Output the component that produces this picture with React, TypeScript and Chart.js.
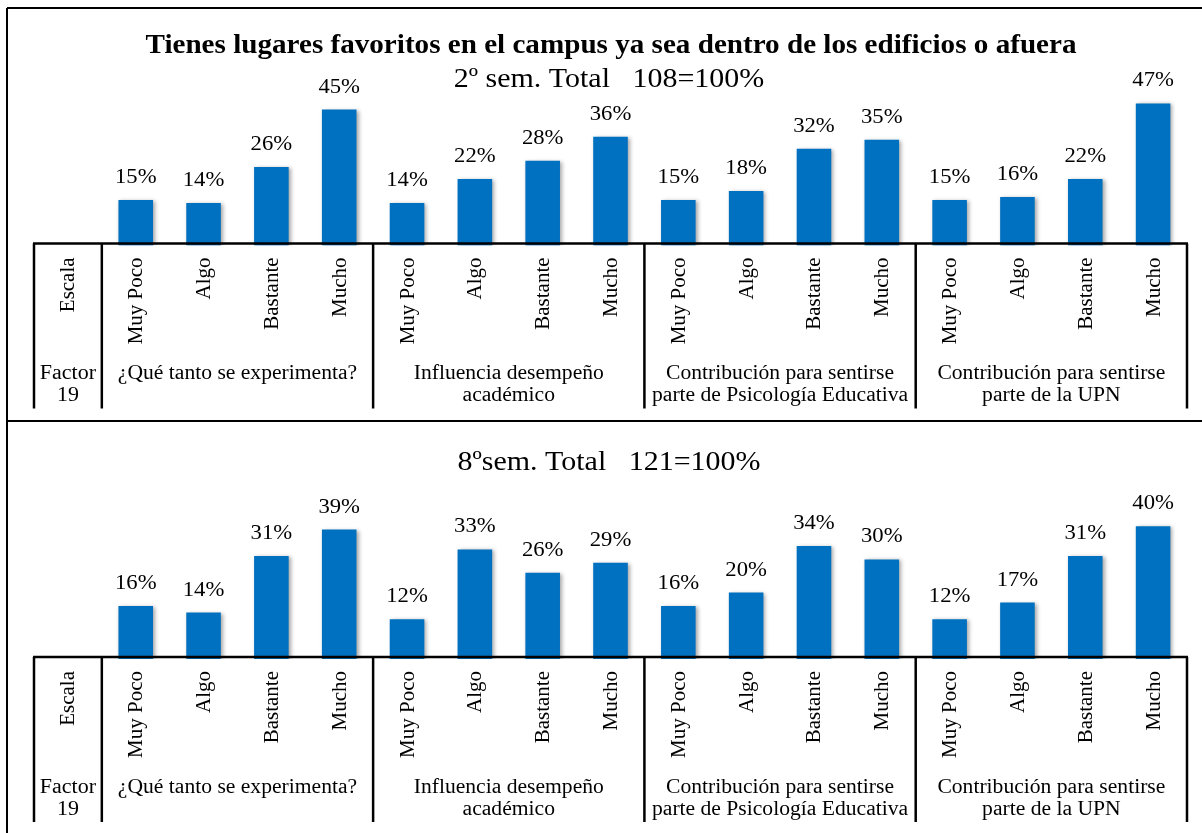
import React, { useEffect, useRef } from 'react';
import { Chart, registerables } from 'chart.js';

Chart.register(...registerables);

// ---------- data ----------
const TITLE = 'Tienes lugares favoritos en el campus ya sea dentro de los edificios o afuera';
const headerLabel = 'Escala';
const factorLabel = ['Factor', '19'];
const scaleLabels = ['Muy Poco', 'Algo', 'Bastante', 'Mucho'];
const factorGroups = [
  ['¿Qué tanto se experimenta?'],
  ['Influencia desempeño', 'académico'],
  ['Contribución para sentirse', 'parte de Psicología Educativa'],
  ['Contribución para sentirse', 'parte de la UPN'],
];
const sem2Subtitle = '2º sem. Total   108=100%';
const sem8Subtitle = '8ºsem. Total   121=100%';
const sem2Values = [15, 14, 26, 45, 14, 22, 28, 36, 15, 18, 32, 35, 15, 16, 22, 47];
const sem8Values = [16, 14, 31, 39, 12, 33, 26, 29, 16, 20, 34, 30, 12, 17, 31, 40];

const FONT = '"Liberation Serif", "Times New Roman", serif';
const BAR_COLOR = '#0070C0';
const W = 1202;

function drawStretched(ctx: CanvasRenderingContext2D, text: string, x: number, y: number, font: string, sx: number, align: CanvasTextAlign) {
  ctx.save();
  ctx.font = font;
  ctx.fillStyle = '#000';
  ctx.textBaseline = 'alphabetic';
  ctx.textAlign = align;
  ctx.translate(x, y);
  ctx.scale(sx, 1);
  ctx.fillText(text, 0, 0);
  ctx.restore();
}

type PanelProps = {
  values: number[];
  subtitle: string;
  subtitleY: number;
  showTitle: boolean;
  height: number;
  origin: number;
  pxPerPct: number;
  top: number;
  frameTop: number | null;
  frameBottom: number | null;
};

function Panel(p: PanelProps) {
  const ref = useRef<HTMLCanvasElement | null>(null);
  useEffect(() => {
    if (!ref.current) return;
    const yMax = 50;
    const labels = [headerLabel];
    factorGroups.forEach(() => scaleLabels.forEach((s) => labels.push(s)));
    const data: (number | null)[] = [null, ...p.values];

    const decor = {
      id: 'decor',
      beforeDatasetsDraw(chart: any) {
        const ctx = chart.ctx as CanvasRenderingContext2D;
        ctx.save();
        ctx.shadowColor = 'rgba(0,0,0,0.35)';
        ctx.shadowBlur = 4;
        ctx.shadowOffsetX = 2;
        ctx.shadowOffsetY = 1;
      },
      afterDatasetsDraw(chart: any) {
        const ctx = chart.ctx as CanvasRenderingContext2D;
        ctx.restore();
        const xs = chart.scales.x;
        const area = chart.chartArea;
        const meta = chart.getDatasetMeta(0);
        // data labels
        meta.data.forEach((el: any, i: number) => {
          const v = data[i];
          if (v == null) return;
          drawStretched(ctx, v + '%', el.x, el.y - 17, `21px ${FONT}`, 1.08, 'center');
        });
        // titles
        if (p.showTitle) {
          drawStretched(ctx, TITLE, 611, 53, `bold 28px ${FONT}`, 1.04, 'center');
        }
        drawStretched(ctx, p.subtitle, 609, p.subtitleY, `28px ${FONT}`, 1.07, 'center');

        // table
        const line = p.origin - 2;
        const tBottom = line + 165;
        const n = labels.length;
        const cx = (i: number) => xs.getPixelForValue(i);
        const boundary = (i: number) => (i <= 0 ? area.left : i >= n ? area.right : (cx(i - 1) + cx(i)) / 2);
        ctx.save();
        ctx.strokeStyle = '#000';
        ctx.lineWidth = 2.5;
        ctx.beginPath();
        ctx.moveTo(area.left - 1, line);
        ctx.lineTo(area.right + 1, line);
        const verts = [0, 1];
        factorGroups.forEach((_, g) => verts.push(1 + (g + 1) * scaleLabels.length));
        verts.forEach((i) => {
          const x = boundary(i);
          ctx.moveTo(x, line);
          ctx.lineTo(x, tBottom);
        });
        ctx.stroke();
        ctx.restore();

        // rotated scale labels
        labels.forEach((lab, i) => {
          ctx.save();
          ctx.font = `21px ${FONT}`;
          ctx.fillStyle = '#000';
          ctx.textAlign = 'right';
          ctx.textBaseline = 'middle';
          ctx.translate(cx(i) + 1, line + 14);
          ctx.rotate(-Math.PI / 2);
          ctx.fillText(lab, 0, 0);
          ctx.restore();
        });

        // factor row
        const fx = cx(0);
        drawStretched(ctx, factorLabel[0], fx, line + 136, `20px ${FONT}`, 1.1, 'center');
        drawStretched(ctx, factorLabel[1], fx, line + 158, `20px ${FONT}`, 1.1, 'center');
        factorGroups.forEach((lines, g) => {
          const a = boundary(1 + g * scaleLabels.length);
          const b = boundary(1 + (g + 1) * scaleLabels.length);
          lines.forEach((t, k) => {
            drawStretched(ctx, t, (a + b) / 2, line + 136 + k * 22, `20px ${FONT}`, 1.08, 'center');
          });
        });

        // frame
        ctx.save();
        ctx.strokeStyle = '#000';
        ctx.lineWidth = 2;
        ctx.beginPath();
        ctx.moveTo(7, p.frameTop != null ? p.frameTop : 0);
        ctx.lineTo(7, p.height);
        if (p.frameTop != null) {
          ctx.moveTo(7, p.frameTop);
          ctx.lineTo(W, p.frameTop);
        }
        ctx.stroke();
        if (p.frameBottom != null) {
          ctx.lineWidth = 3;
          ctx.beginPath();
          ctx.moveTo(6, p.frameBottom);
          ctx.lineTo(W, p.frameBottom);
          ctx.stroke();
        }
        ctx.restore();
      },
    };

    const chart = new Chart(ref.current, {
      type: 'bar',
      data: {
        labels,
        datasets: [
          {
            data,
            backgroundColor: BAR_COLOR,
            borderWidth: 0,
            barPercentage: 0.51,
            categoryPercentage: 1,
          },
        ],
      },
      options: {
        animation: false,
        responsive: false,
        maintainAspectRatio: false,
        devicePixelRatio: 1,
        layout: {
          padding: {
            left: 34,
            right: W - 1187,
            top: p.origin - yMax * p.pxPerPct,
            bottom: p.height - p.origin,
          },
        },
        plugins: {
          legend: { display: false },
          tooltip: { enabled: false },
          title: { display: false },
        },
        scales: {
          x: { display: false, offset: true, grid: { display: false } },
          y: { display: false, min: 0, max: yMax, grid: { display: false } },
        },
      },
      plugins: [decor],
    } as any);
    return () => chart.destroy();
  }, []);
  return (
    <canvas
      ref={ref}
      width={W}
      height={p.height}
      style={{ position: 'absolute', left: 0, top: p.top, width: W, height: p.height, display: 'block' }}
    />
  );
}

export default function App() {
  return (
    <div style={{ position: 'absolute', left: 0, top: 0, width: W, height: 833, background: '#fff', overflow: 'hidden' }}>
      <Panel
        values={sem2Values}
        subtitle={sem2Subtitle}
        subtitleY={87}
        showTitle={true}
        height={422}
        origin={245.4}
        pxPerPct={3.02}
        top={0}
        frameTop={8}
        frameBottom={421.5}
      />
      <Panel
        values={sem8Values}
        subtitle={sem8Subtitle}
        subtitleY={48}
        showTitle={false}
        height={411}
        origin={237}
        pxPerPct={3.32}
        top={422}
        frameTop={null}
        frameBottom={null}
      />
    </div>
  );
}
